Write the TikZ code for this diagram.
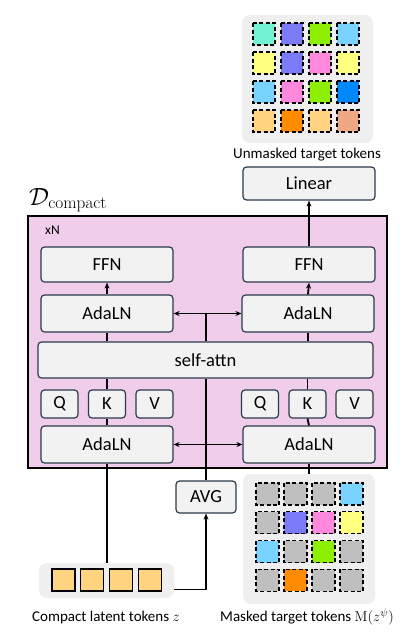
\documentclass[tikz,border=0pt]{standalone}
\usepackage[no-math]{fontspec}
\setmainfont{Carlito}
\usetikzlibrary{arrows.meta}
\definecolor{boxfill}{HTML}{F2F2F2}
\definecolor{boxline}{HTML}{2B3A4A}
\definecolor{pinkbg}{HTML}{F0CDEB}
\definecolor{panelgray}{HTML}{EFEFEF}
\definecolor{tteal}{HTML}{74F2D4}
\definecolor{tpurple}{HTML}{7B7BF8}
\definecolor{tlime}{HTML}{8CF000}
\definecolor{tsky}{HTML}{78D4FF}
\definecolor{tyellow}{HTML}{FFFF80}
\definecolor{tpink}{HTML}{FF88DC}
\definecolor{tblue}{HTML}{0088FF}
\definecolor{tlorange}{HTML}{FFD37F}
\definecolor{torange}{HTML}{FF8C00}
\definecolor{tsalmon}{HTML}{F0A884}
\definecolor{tgray}{HTML}{BFBFBF}
\begin{document}
\begin{tikzpicture}[x=1pt,y=-1pt,
  box/.style={draw=boxline, fill=boxfill, rounded corners=3.5pt, line width=1.2pt, inner sep=0pt, font=\fontsize{18.5}{20}\selectfont},
  conn/.style={line width=1.8pt, black},
  arr/.style={conn, -{Stealth[length=6pt,width=5pt]}},
  darr/.style={conn, {Stealth[length=6pt,width=5pt]}-{Stealth[length=6pt,width=5pt]}},
  panel/.style={fill=panelgray, rounded corners=8pt, inner sep=0pt},
  tok/.style={line width=1.3pt, dash pattern=on 4pt off 2.5pt},
  captxt/.style={font=\fontsize{15}{17}\selectfont, inner sep=0pt}]
\useasboundingbox (0,0) rectangle (406,635);

% top grid
\node[panel, minimum width=131pt, minimum height=128pt] (upanel) at (307.5,79) {};
\foreach \c/\r/\col in {0/0/tteal,1/0/tpurple,2/0/tlime,3/0/tsky,
                        0/1/tyellow,1/1/tpurple,2/1/tpink,3/1/tyellow,
                        0/2/tsky,1/2/tpink,2/2/tlime,3/2/tblue,
                        0/3/tlorange,1/3/torange,2/3/tlorange,3/3/tsalmon}
  \draw[tok, fill=\col] (253+28*\c, 23+29*\r) rectangle ++(22,22);
\node[captxt] (ucap) at (307,155) {Unmasked target tokens};

\node[box, minimum width=132pt, minimum height=33pt] (linear) at (309,183.5) {Linear};

% decoder block
\node[anchor=base west, inner sep=0pt, font=\fontsize{24}{26}\selectfont] (dlabel) at (29,205) {$\mathcal{D}_{\mathrm{compact}}$};
\node[draw=black, line width=1.5pt, fill=pinkbg, minimum width=359pt, minimum height=252pt, anchor=north west, inner sep=0pt] (dec) at (27,215) {};
\node[anchor=west, inner sep=0pt, font=\fontsize{13.5}{15}\selectfont] (xn) at (45,230) {xN};

\node[box, minimum width=132pt, minimum height=35pt] (FFNL) at (107,264.5) {FFN};
\node[box, minimum width=132pt, minimum height=35pt] (FFNR) at (309,264.5) {FFN};
\node[box, minimum width=132pt, minimum height=37pt] (upAL) at (107,313.5) {AdaLN};
\node[box, minimum width=132pt, minimum height=37pt] (upAR) at (308,313.5) {AdaLN};
\node[box, minimum width=335pt, minimum height=36pt] (sa) at (205.5,360) {self-attn};
\node[box, minimum width=37pt, minimum height=28pt] (QL) at (59.5,404) {Q};
\node[box, minimum width=37pt, minimum height=28pt] (KL) at (107,404) {K};
\node[box, minimum width=37pt, minimum height=28pt] (VL) at (154.5,404) {V};
\node[box, minimum width=37pt, minimum height=28pt] (QR) at (260,404) {Q};
\node[box, minimum width=37pt, minimum height=28pt] (KR) at (307.5,404) {K};
\node[box, minimum width=37pt, minimum height=28pt] (VR) at (354.5,404) {V};
\node[box, minimum width=132pt, minimum height=37pt] (lowAL) at (107,444.5) {AdaLN};
\node[box, minimum width=132pt, minimum height=37pt] (lowAR) at (309,444.5) {AdaLN};

\node[box, minimum width=60pt, minimum height=32pt] (avg) at (206,497) {AVG};

% compact tokens
\node[panel, minimum width=135pt, minimum height=35pt] (cpanel) at (106.5,580.5) {};
\foreach \i in {0,...,3}
  \draw[line width=1.2pt, fill=tlorange] (52+28.7*\i,569) rectangle ++(23,22);
\node[captxt] (ccap) at (106,617) {Compact latent tokens $z$};

% masked tokens
\node[panel, minimum width=132pt, minimum height=130pt] (mpanel) at (309,539) {};
\foreach \c/\r/\col in {0/0/tgray,1/0/tgray,2/0/tgray,3/0/tsky,
                        0/1/tgray,1/1/tpurple,2/1/tpink,3/1/tyellow,
                        0/2/tsky,1/2/tgray,2/2/tlime,3/2/tgray,
                        0/3/tgray,1/3/torange,2/3/tgray,3/3/tgray}
  \draw[tok, fill=\col] (256+28*\c, 483+28.8*\r) rectangle ++(23,22);
\node[captxt] (mcap) at (307,617) {Masked target tokens $\mathrm{M}(z^{\psi})$};

% connectors left column
\draw[conn] (lowAL.south |- cpanel.north) -- (lowAL.south);
\draw[conn] (lowAL.north) -- (KL.south);
\draw[conn] (KL.north) -- (KL.north |- sa.south);
\draw[conn] (upAL.south |- sa.north) -- (upAL.south);
\draw[arr] (upAL.north) -- (FFNL.south);
% right column
\draw[conn] (lowAR.south |- mpanel.north) -- (lowAR.south);
\draw[conn] (lowAR.north) -- (KR.south);
\draw[conn] (KR.north) -- (KR.north |- sa.south);
\draw[conn] (upAR.south |- sa.north) -- (upAR.south);
\draw[arr] (upAR.north) -- (FFNR.south);
\draw[arr] (FFNR.north) -- (linear.south);
% cross connections
\coordinate (jt) at (avg.north |- upAL.east);
\draw[conn] (avg.north) -- (avg.north |- sa.south);
\draw[conn] (avg.north |- sa.north) -- (jt);
\draw[darr] (lowAL.east) -- (lowAR.west);
\draw[darr] (upAL.east) -- (upAR.west);
\draw[arr] ([yshift=-9pt]cpanel.east) -| (avg.south);
\end{tikzpicture}
\end{document}
